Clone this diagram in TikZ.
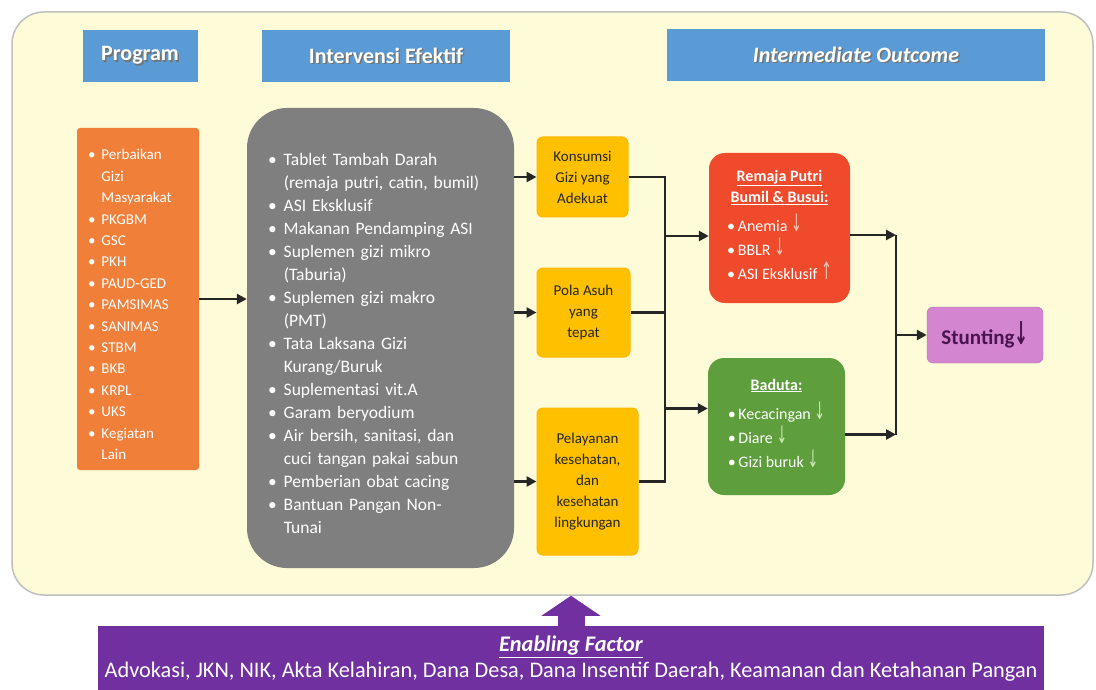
\documentclass[tikz,border=0pt]{standalone}
\usepackage{fontspec}
\setmainfont{Carlito}
\newfontfamily\symfont{DejaVu Sans}
\usepackage{xcolor}
\usepackage{graphicx}
\usetikzlibrary{positioning,calc,arrows.meta}

\definecolor{bgyel}{HTML}{FDFBD8}
\definecolor{hblue}{HTML}{5B9BD5}
\definecolor{orgc}{HTML}{F07F3A}
\definecolor{grayc}{HTML}{7F7F7F}
\definecolor{goldc}{HTML}{FFC000}
\definecolor{redc}{HTML}{EF4A2C}
\definecolor{redlt}{HTML}{F9C4B4}
\definecolor{greenc}{HTML}{5E9E3C}
\definecolor{greenlt}{HTML}{CBE8B4}
\definecolor{pinkc}{HTML}{D385CF}
\definecolor{stunc}{HTML}{4A1450}
\definecolor{purpc}{HTML}{7030A0}
\definecolor{linec}{HTML}{262626}

% bullet item with hanging indent
\newcommand{\itm}[1]{\par\noindent\hangindent=0.9em\hangafter=1\makebox[0.9em][l]{\textbullet}{\let\\\newline #1}}
\newcommand{\dn}[1]{{\symfont\color{#1}\scalebox{0.8}[1.5]{↓}}}
\newcommand{\upar}[1]{{\symfont\color{#1}\scalebox{0.8}[1.5]{↑}}}
% text with a dark shadow
\newcommand{\shd}[1]{\makebox[0pt][l]{\hspace{1.5pt}\raisebox{-1.5pt}{\textcolor{black!55}{#1}}}#1}

\begin{document}
\begin{tikzpicture}[x=1pt,y=-1pt,
 hdr/.style={fill=hblue,text=white,font=\fontsize{22}{24}\selectfont\bfseries,minimum height=52pt,inner sep=0pt},
 b/.style={rounded corners=6pt,inner sep=0pt,align=center},
 lst/.style={b,align=left,text=white},
 yel/.style={b,fill=goldc,draw=goldc!85!orange,line width=1pt,text=linec,font=\fontsize{15}{21}\selectfont},
 res/.style={b,text=white,rounded corners=16pt,font=\fontsize{16}{21.5}\selectfont},
 ar/.style={-{Triangle[length=10pt,width=10pt]},line width=2.6pt,draw=linec},
 ln/.style={line width=2.6pt,draw=linec,line join=miter}]
\useasboundingbox (0,0) rectangle (1096,690);
\fill[white] (0,0) rectangle (1096,690);
\node[draw=black!25,line width=1.5pt,fill=bgyel,rounded corners=32pt,minimum width=1081pt,minimum height=583pt] (frame) at (552.5,303.5) {};

% headers
\node[hdr,minimum width=115pt] (hprog) at (140,56) {\shd{Program}};
\node[hdr,minimum width=248pt] (hintv) at (386,56.5) {\shd{Intervensi Efektif}};
\node[hdr,minimum width=378pt,font=\fontsize{22}{24}\selectfont\bfseries\itshape] (hout) at (856,55.5) {\shd{Intermediate Outcome}};

% program and interventions
\node[lst,fill=orgc,rounded corners=3pt,text width=100pt,inner xsep=11pt,minimum height=342pt,font=\fontsize{15}{21.4}\selectfont] (prog) at (138,299) {\itm{Perbaikan\\Gizi\\Masyarakat}\itm{PKGBM}\itm{GSC}\itm{PKH}\itm{PAUD-GED}\itm{PAMSIMAS}\itm{SANIMAS}\itm{STBM}\itm{BKB}\itm{KRPL}\itm{UKS}\itm{Kegiatan\\Lain}\par};
\node[lst,fill=grayc,rounded corners=40pt,text width=225pt,inner xsep=21pt,minimum height=460pt,font=\fontsize{17.5}{23}\selectfont] (intv) at (380.5,338) {\itm{Tablet Tambah Darah\\(remaja putri, catin, bumil)}\itm{ASI Eksklusif}\itm{Makanan Pendamping ASI}\itm{Suplemen gizi mikro\\(Taburia)}\itm{Suplemen gizi makro\\(PMT)}\itm{Tata Laksana Gizi\\Kurang/Buruk}\itm{Suplementasi vit.A}\itm{Garam beryodium}\itm{Air bersih, sanitasi, dan\\cuci tangan pakai sabun}\itm{Pemberian obat cacing}\itm{Bantuan Pangan Non-\\Tunai}\par};

% effective results
\node[yel,minimum width=91pt,minimum height=80pt] (gizi) at (582.5,177) {Konsumsi\\Gizi yang\\Adekuat};
\node[yel,minimum width=93pt,minimum height=89pt] (asuh) at (583.5,312.5) {Pola Asuh\\yang\\tepat};
\node[yel,minimum width=101pt,minimum height=147pt] (yankes) at (587.5,481.5) {Pelayanan\\kesehatan,\\dan\\kesehatan\\lingkungan};

% intermediate outcome
\node[res,fill=redc,minimum width=141pt,minimum height=150pt] (remaja) at (779.5,228) {\textbf{\underline{Remaja Putri}}\\\textbf{\underline{Bumil \& Busui:}}\\[8pt]\begin{tabular}{@{}l@{}}\textbullet\,Anemia \dn{redlt}\\\textbullet\,BBLR \dn{redlt}\\\textbullet\,ASI Eksklusif \upar{redlt}\end{tabular}};
\node[res,fill=greenc,minimum width=137pt,minimum height=137pt] (baduta) at (776.5,426.5) {\textbf{\underline{Baduta:}}\\[9pt]\begin{tabular}{@{}l@{}}\textbullet\,Kecacingan \dn{greenlt}\\\textbullet\,Diare \dn{greenlt}\\\textbullet\,Gizi buruk \dn{greenlt}\end{tabular}};
\node[b,fill=pinkc,draw=pinkc!85!black,text=stunc,minimum width=116pt,minimum height=56pt,font=\fontsize{21}{24}\selectfont\bfseries] (stunt) at (985,335) {Stunting\dn{stunc}};

% enabling factor
\node[fill=purpc,text=white,minimum width=946pt,minimum height=66pt,inner sep=0pt,align=center,font=\fontsize{22.3}{26}\selectfont] (enab) at (571,659) {\textbf{\textit{\underline{Enabling Factor}}}\\Advokasi, JKN, NIK, Akta Kelahiran, Dana Desa, Dana Insentif Daerah, Keamanan dan Ketahanan Pangan};
\draw[purpc,line width=27pt,-{Triangle[length=20pt,width=58pt]}] (enab.north) -- (enab.north |- frame.south);

% connectors
\coordinate (busA) at (665,0);
\coordinate (busB) at (896,0);
\draw[ar] (prog.east) -- (prog.east -| intv.west);
\draw[ar] (gizi.west -| intv.east) -- (gizi.west);
\draw[ar] (asuh.west -| intv.east) -- (asuh.west);
\draw[ar] (yankes.west -| intv.east) -- (yankes.west);
\draw[ln] (gizi.east) -- (gizi.east -| busA) -- (yankes.east -| busA) -- (yankes.east);
\draw[ln] (asuh.east) -- (asuh.east -| busA);
\draw[ar] ([yshift=-8pt]remaja.west -| busA) -- ([yshift=-8pt]remaja.west);
\draw[ar] ([yshift=18pt]baduta.west -| busA) -- ([yshift=18pt]baduta.west);
\draw[ar] ([yshift=-7pt]remaja.east) -- ([yshift=-7pt]remaja.east -| busB);
\draw[ar] ([yshift=-8pt]baduta.east) -- ([yshift=-8pt]baduta.east -| busB);
\draw[ln] ([yshift=-7pt]remaja.east -| busB) -- ([yshift=-8pt]baduta.east -| busB);
\draw[ar] (stunt.west -| busB) -- (stunt.west);
\end{tikzpicture}
\end{document}
